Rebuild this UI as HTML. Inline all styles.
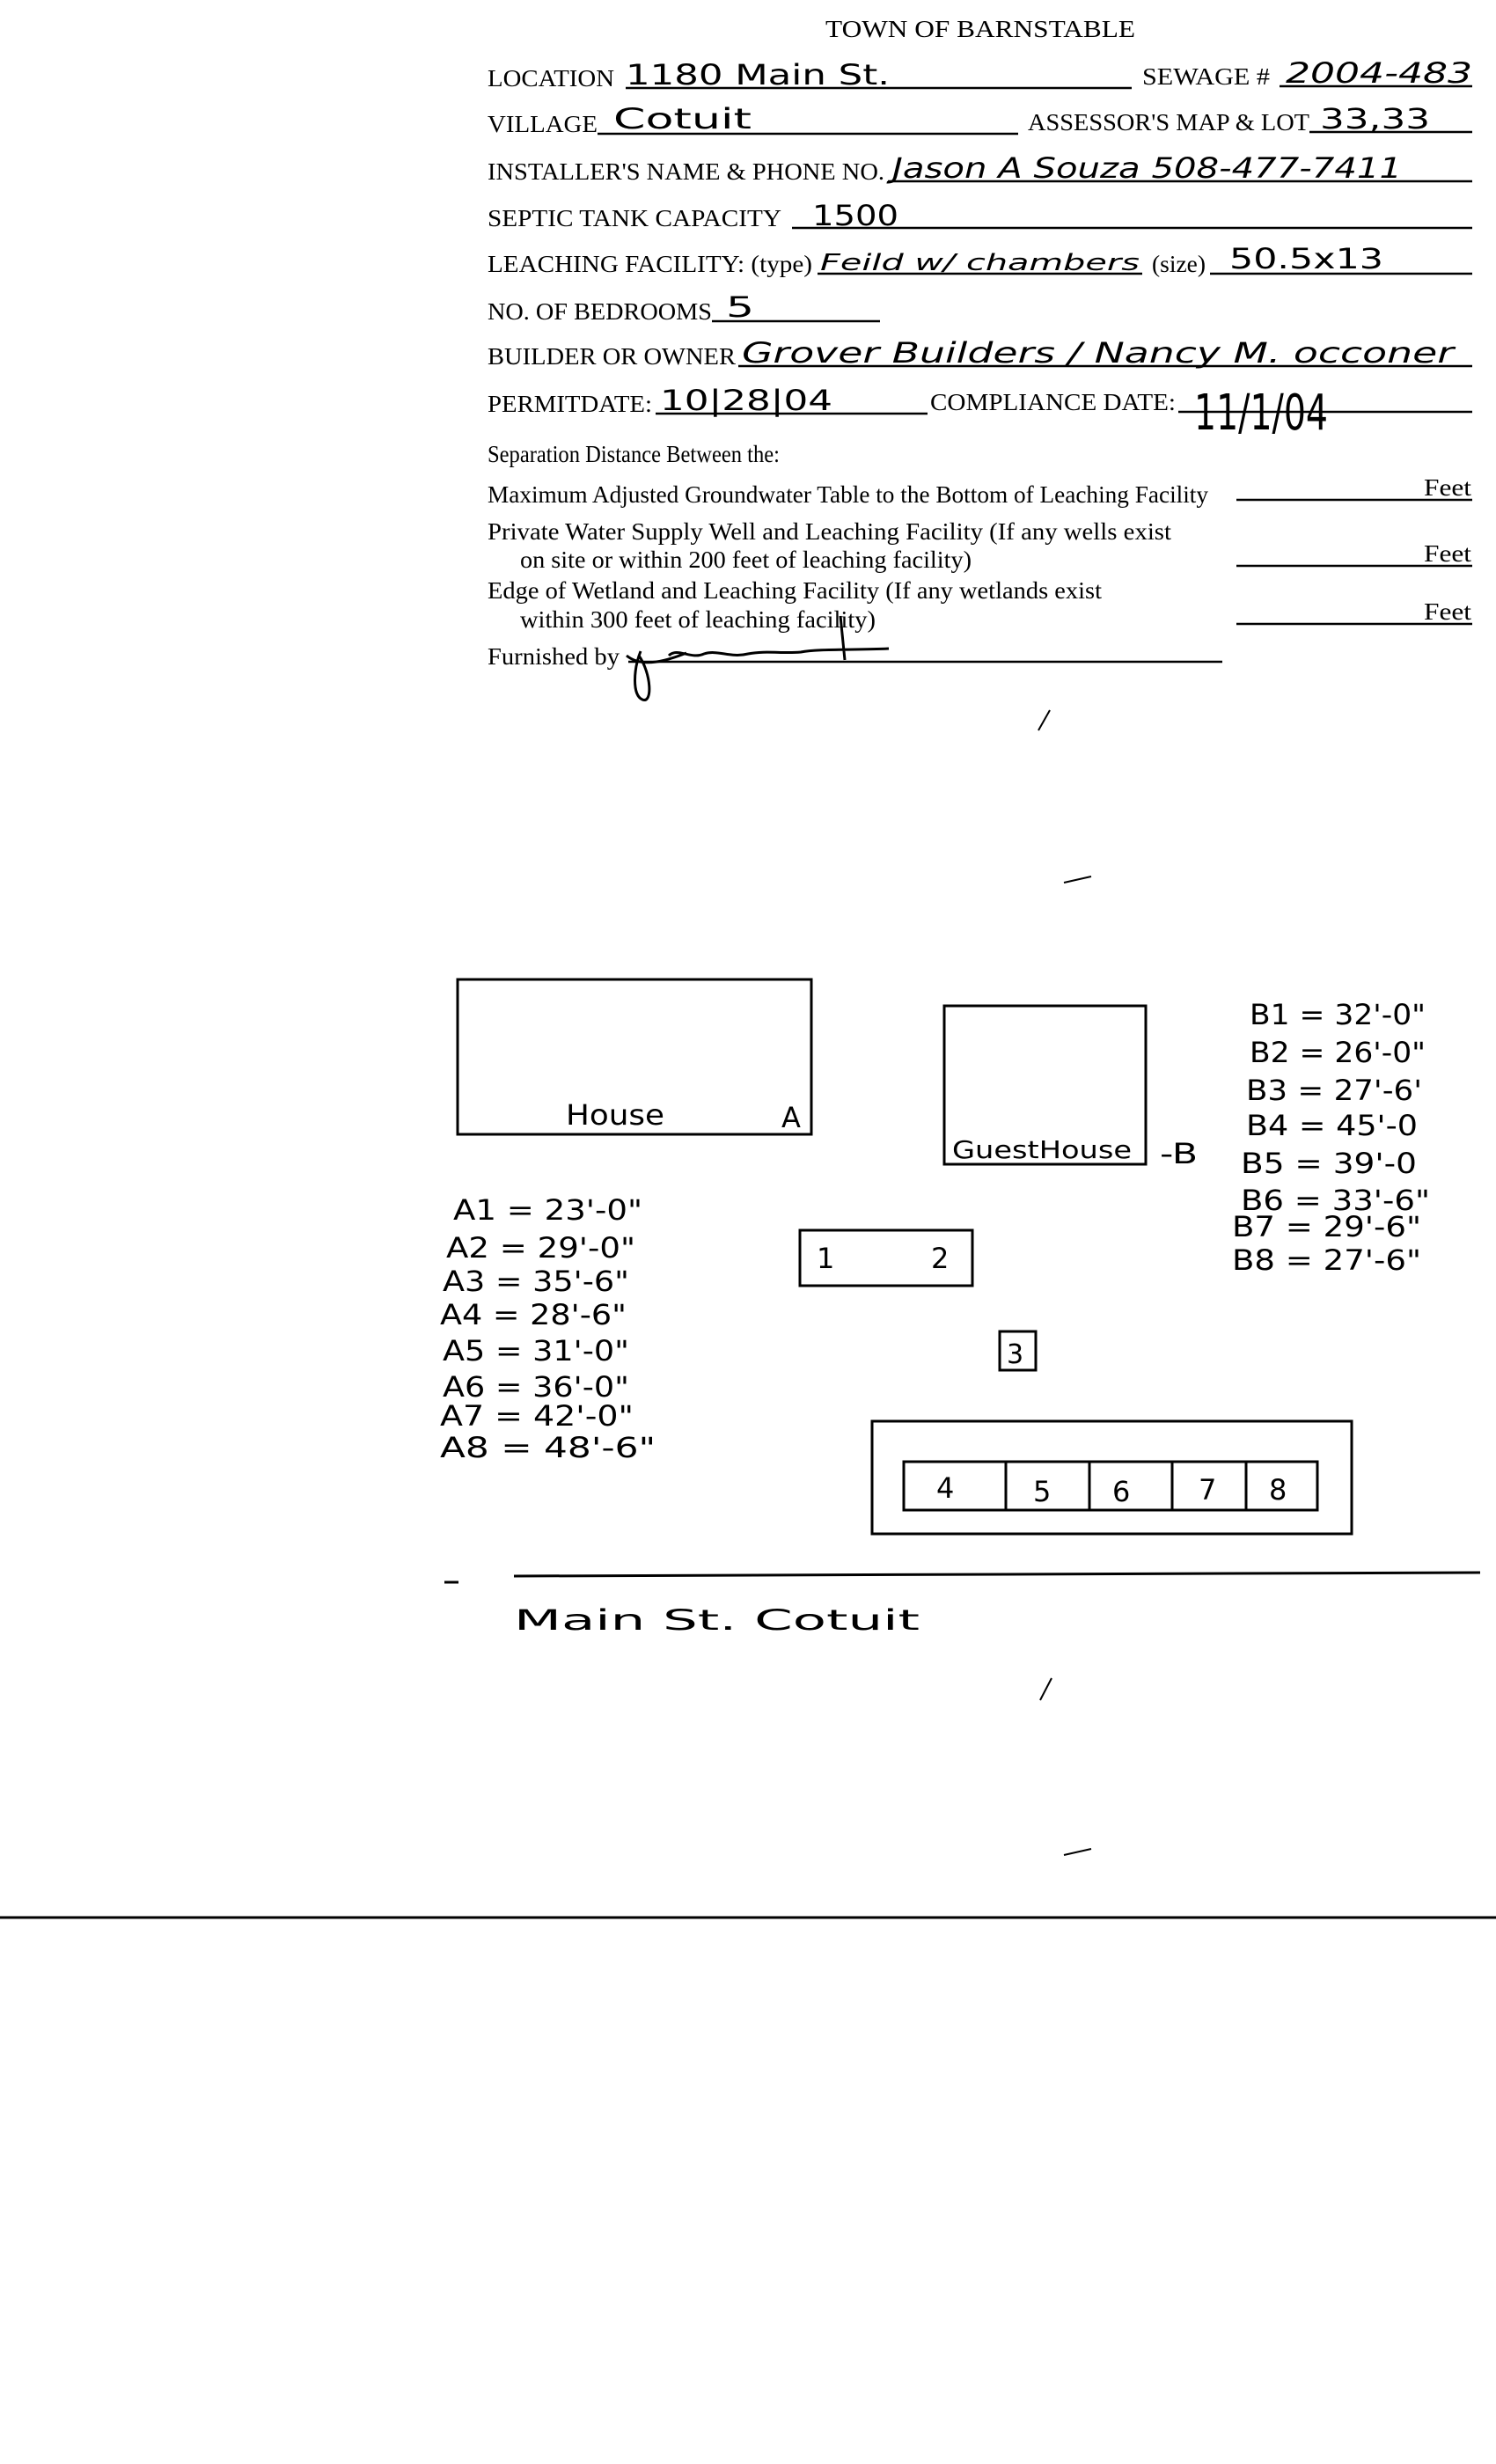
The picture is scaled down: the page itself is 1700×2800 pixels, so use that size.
<!DOCTYPE html>
<html><head><meta charset="utf-8"><style>
html,body{margin:0;padding:0;background:#fff;}
svg{display:block;}
.p{font-family:"Liberation Serif",serif;font-size:27px;fill:#000;}
.h{font-family:"DejaVu Sans","Liberation Sans",sans-serif;font-size:32px;fill:#000;font-weight:normal;}
</style></head><body>
<svg width="1700" height="2800" viewBox="0 0 1700 2800" xmlns="http://www.w3.org/2000/svg">
<g class="p" lengthAdjust="spacingAndGlyphs">
<text x="938" y="42" textLength="352" lengthAdjust="spacingAndGlyphs">TOWN OF BARNSTABLE</text>
<text x="554" y="98" textLength="144" lengthAdjust="spacingAndGlyphs">LOCATION</text>
<text x="1298" y="96" textLength="145" lengthAdjust="spacingAndGlyphs">SEWAGE #</text>
<text x="554" y="150" textLength="125" lengthAdjust="spacingAndGlyphs">VILLAGE</text>
<text x="1168" y="148" textLength="320" lengthAdjust="spacingAndGlyphs">ASSESSOR'S MAP &amp; LOT</text>
<text x="554" y="204" textLength="451" lengthAdjust="spacingAndGlyphs">INSTALLER'S NAME &amp; PHONE NO.</text>
<text x="554" y="257" textLength="334" lengthAdjust="spacingAndGlyphs">SEPTIC TANK CAPACITY</text>
<text x="554" y="309" textLength="369" lengthAdjust="spacingAndGlyphs">LEACHING FACILITY: (type)</text>
<text x="1309" y="309" textLength="61" lengthAdjust="spacingAndGlyphs">(size)</text>
<text x="554" y="363" textLength="255" lengthAdjust="spacingAndGlyphs">NO. OF BEDROOMS</text>
<text x="554" y="414" textLength="282" lengthAdjust="spacingAndGlyphs">BUILDER OR OWNER</text>
<text x="554" y="468" textLength="187" lengthAdjust="spacingAndGlyphs">PERMITDATE:</text>
<text x="1057" y="466" textLength="279" lengthAdjust="spacingAndGlyphs">COMPLIANCE DATE:</text>
<text x="554" y="525" textLength="332" lengthAdjust="spacingAndGlyphs">Separation Distance Between the:</text>
<text x="554" y="571" textLength="819" lengthAdjust="spacingAndGlyphs">Maximum Adjusted Groundwater Table to the Bottom of Leaching Facility</text>
<text x="554" y="613" textLength="777" lengthAdjust="spacingAndGlyphs">Private Water Supply Well and Leaching Facility  (If any wells exist</text>
<text x="591" y="645" textLength="513" lengthAdjust="spacingAndGlyphs">on site or within 200 feet of leaching facility)</text>
<text x="554" y="680" textLength="698" lengthAdjust="spacingAndGlyphs">Edge of Wetland and Leaching Facility (If any wetlands exist</text>
<text x="591" y="713" textLength="404" lengthAdjust="spacingAndGlyphs">within 300 feet of leaching facility)</text>
<text x="554" y="755" textLength="150" lengthAdjust="spacingAndGlyphs">Furnished by</text>
<text x="1618" y="563" textLength="54" lengthAdjust="spacingAndGlyphs">Feet</text>
<text x="1618" y="638" textLength="54" lengthAdjust="spacingAndGlyphs">Feet</text>
<text x="1618" y="704" textLength="54" lengthAdjust="spacingAndGlyphs">Feet</text>
</g>
<g stroke="#000" stroke-width="2.5" fill="none">
<line x1="711" y1="100" x2="1286" y2="100"/>
<line x1="1454" y1="98" x2="1673" y2="98"/>
<line x1="679" y1="152" x2="1157" y2="152"/>
<line x1="1488" y1="150" x2="1673" y2="150"/>
<line x1="1009" y1="206" x2="1673" y2="206"/>
<line x1="900" y1="259" x2="1673" y2="259"/>
<line x1="929" y1="311" x2="1298" y2="311"/>
<line x1="1375" y1="311" x2="1673" y2="311"/>
<line x1="809" y1="365" x2="1000" y2="365"/>
<line x1="839" y1="416" x2="1673" y2="416"/>
<line x1="745" y1="470" x2="1054" y2="470"/>
<line x1="1339" y1="468" x2="1673" y2="468"/>
<line x1="1405" y1="568" x2="1673" y2="568"/>
<line x1="1405" y1="643" x2="1673" y2="643"/>
<line x1="1405" y1="709" x2="1673" y2="709"/>
<line x1="714" y1="752" x2="1389" y2="752"/>
</g>
<g class="h" lengthAdjust="spacingAndGlyphs">
<text x="711" y="96" textLength="300" lengthAdjust="spacingAndGlyphs">1180 Main St.</text>
<text x="1461" y="94" textLength="212" lengthAdjust="spacingAndGlyphs" font-style="italic">2004-483</text>
<text x="697" y="146" textLength="157" lengthAdjust="spacingAndGlyphs">Cotuit</text>
<text x="1500" y="146" textLength="125" lengthAdjust="spacingAndGlyphs">33,33</text>
<text x="1014" y="202" textLength="579" lengthAdjust="spacingAndGlyphs" font-style="italic">Jason A Souza 508-477-7411</text>
<text x="923" y="256" textLength="98" lengthAdjust="spacingAndGlyphs">1500</text>
<text x="932" y="307" textLength="363" lengthAdjust="spacingAndGlyphs" font-size="26" font-style="italic">Feild w/ chambers</text>
<text x="1397" y="305" textLength="175" lengthAdjust="spacingAndGlyphs">50.5x13</text>
<text x="825" y="360" textLength="32" lengthAdjust="spacingAndGlyphs">5</text>
<text x="843" y="412" textLength="809" lengthAdjust="spacingAndGlyphs" font-style="italic">Grover Builders / Nancy M. occoner</text>
<text x="750" y="466" textLength="196" lengthAdjust="spacingAndGlyphs">10|28|04</text>
<text x="1357" y="488" textLength="152" lengthAdjust="spacingAndGlyphs" font-size="56">11/1/04</text>
</g>
<path d="M712 745 C730 760 760 750 780 742 M760 745 c10 -10 25 5 40 -2 c15 -5 30 5 50 0 c20 -4 40 0 60 -2 c20 -4 60 -2 100 -4 M728 740 c-8 20 -10 50 2 55 c12 5 10 -30 -4 -50 M955 700 l5 50" stroke="#000" stroke-width="3" fill="none"/>
<g stroke="#000" stroke-width="2" fill="none">
<line x1="1180" y1="830" x2="1193" y2="807"/>
<line x1="1182" y1="1932" x2="1195" y2="1907"/>
<line x1="1209" y1="1003" x2="1240" y2="996"/>
<line x1="1209" y1="2108" x2="1240" y2="2101"/>
</g>
<g stroke="#000" stroke-width="3" fill="none">
<rect x="520" y="1113" width="402" height="176"/>
<rect x="1073" y="1143" width="229" height="180"/>
<rect x="909" y="1398" width="196" height="63"/>
<rect x="1136" y="1513" width="41" height="44"/>
<rect x="991" y="1615" width="545" height="128"/>
<rect x="1027" y="1661" width="470" height="55"/>
<line x1="1143" y1="1661" x2="1143" y2="1716"/>
<line x1="1238" y1="1661" x2="1238" y2="1716"/>
<line x1="1332" y1="1661" x2="1332" y2="1716"/>
<line x1="1416" y1="1661" x2="1416" y2="1716"/>
<line x1="505" y1="1798" x2="521" y2="1798"/>
<line x1="584" y1="1791" x2="1682" y2="1787"/>
<line x1="0" y1="2179" x2="1700" y2="2179"/>
</g>
<g class="h">
<text x="643" y="1278" textLength="112" lengthAdjust="spacingAndGlyphs">House</text>
<text x="888" y="1281">A</text>
<text x="1082" y="1316" textLength="204" lengthAdjust="spacingAndGlyphs" font-size="28">GuestHouse</text>
<text x="1318" y="1322" textLength="43" lengthAdjust="spacingAndGlyphs">-B</text>
<text x="928" y="1441">1</text>
<text x="1058" y="1441">2</text>
<text x="1144" y="1549" font-size="30">3</text>
<text x="1064" y="1702">4</text>
<text x="1174" y="1706">5</text>
<text x="1264" y="1706">6</text>
<text x="1362" y="1704">7</text>
<text x="1442" y="1704">8</text>
</g>
<g class="h" font-size="34">
<text x="515" y="1386" textLength="215" lengthAdjust="spacingAndGlyphs">A1 = 23'-0"</text>
<text x="507" y="1429" textLength="215" lengthAdjust="spacingAndGlyphs">A2 = 29'-0"</text>
<text x="503" y="1467" textLength="212" lengthAdjust="spacingAndGlyphs">A3 = 35'-6"</text>
<text x="500" y="1505" textLength="212" lengthAdjust="spacingAndGlyphs">A4 = 28'-6"</text>
<text x="503" y="1546" textLength="212" lengthAdjust="spacingAndGlyphs">A5 = 31'-0"</text>
<text x="503" y="1587" textLength="212" lengthAdjust="spacingAndGlyphs">A6 = 36'-0"</text>
<text x="500" y="1620" textLength="220" lengthAdjust="spacingAndGlyphs">A7 = 42'-0"</text>
<text x="500" y="1656" textLength="245" lengthAdjust="spacingAndGlyphs">A8 = 48'-6"</text>
<text x="1420" y="1164" textLength="200" lengthAdjust="spacingAndGlyphs">B1 = 32'-0"</text>
<text x="1420" y="1207" textLength="200" lengthAdjust="spacingAndGlyphs">B2 = 26'-0"</text>
<text x="1416" y="1250" textLength="200" lengthAdjust="spacingAndGlyphs">B3 = 27'-6'</text>
<text x="1416" y="1290" textLength="195" lengthAdjust="spacingAndGlyphs">B4 = 45'-0</text>
<text x="1410" y="1333" textLength="200" lengthAdjust="spacingAndGlyphs">B5 = 39'-0</text>
<text x="1410" y="1375" textLength="215" lengthAdjust="spacingAndGlyphs">B6 = 33'-6"</text>
<text x="1400" y="1405" textLength="215" lengthAdjust="spacingAndGlyphs">B7 = 29'-6"</text>
<text x="1400" y="1443" textLength="215" lengthAdjust="spacingAndGlyphs">B8 = 27'-6"</text>
</g>
<text class="h" x="584" y="1852" font-size="44" textLength="461" lengthAdjust="spacingAndGlyphs">Main St.  Cotuit</text>
</svg>
</body></html>
